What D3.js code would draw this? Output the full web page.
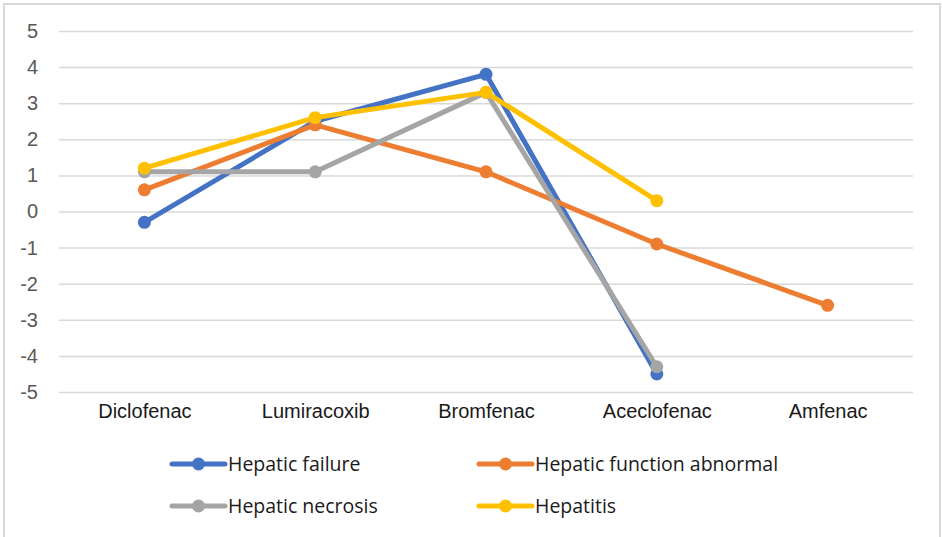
<!DOCTYPE html>
<html>
<head>
<meta charset="utf-8">
<script src="https://cdn.jsdelivr.net/npm/d3@7"></script>
<style>
  html, body { margin: 0; padding: 0; background: #fff; }
  svg { display: block; font-family: "Open Sans", "Liberation Sans", sans-serif; }
</style>
</head>
<body>
<svg id="chart" width="942" height="537"></svg>
<script>
// Drugs on the category axis
const categories = ["Diclofenac", "Lumiracoxib", "Bromfenac", "Aceclofenac", "Amfenac"];

// Series values per drug (null = no value reported)
const hepaticFailure = [-0.3, 2.5, 3.8, -4.5, null];
const hepaticFunctionAbnormal = [0.6, 2.4, 1.1, -0.9, -2.6];
const hepaticNecrosis = [1.1, 1.1, 3.3, -4.3, null];
const hepatitis = [1.2, 2.6, 3.3, 0.3, null];

const seriesNames = ["Hepatic failure", "Hepatic function abnormal", "Hepatic necrosis", "Hepatitis"];
const seriesColors = ["#4472C4", "#ED7D31", "#A5A5A5", "#FFC000"];
const yTicks = [-5, -4, -3, -2, -1, 0, 1, 2, 3, 4, 5];

const series = [hepaticFailure, hepaticFunctionAbnormal, hepaticNecrosis, hepatitis].map((vals, i) => ({
  name: seriesNames[i],
  color: seriesColors[i],
  points: vals.map((v, j) => ({ cat: categories[j], value: v }))
}));

const svg = d3.select("#chart");
const plotLeft = 59, plotRight = 913, plotTop = 31, plotBottom = 392;

// Outer chart frame (left, top, right edges)
svg.append("path")
  .attr("d", "M4,537 V4 H940 V537")
  .attr("fill", "none")
  .attr("stroke", "#d9d9d9")
  .attr("stroke-width", 2);

const x = d3.scalePoint().domain(categories).range([plotLeft, plotRight]).padding(0.5);
const y = d3.scaleLinear().domain([-5, 5]).range([plotBottom, plotTop]);

// Value axis with horizontal gridlines
const yAxis = svg.append("g")
  .attr("transform", `translate(${plotLeft},0)`)
  .call(d3.axisLeft(y).tickValues(yTicks).tickSize(-(plotRight - plotLeft)).tickPadding(21).tickFormat(d3.format("d")));
yAxis.select(".domain").remove();
yAxis.selectAll(".tick line").attr("stroke", "#d9d9d9").attr("stroke-width", 1.5);
yAxis.selectAll(".tick text")
  .attr("fill", "#595959")
  .style("font-size", "20px")
  .text(d => d < 0 ? "-" + Math.abs(d) : d);

// Category axis labels
const xAxis = svg.append("g")
  .attr("transform", `translate(0,${plotBottom})`)
  .call(d3.axisBottom(x).tickSize(0).tickPadding(12));
xAxis.select(".domain").remove();
xAxis.selectAll(".tick text")
  .attr("fill", "#1a1a1a")
  .style("font-size", "20px");

// Lines and markers
const line = d3.line()
  .defined(d => d.value !== null)
  .x(d => x(d.cat))
  .y(d => y(d.value));

series.forEach(s => {
  const g = svg.append("g");
  g.append("path")
    .datum(s.points)
    .attr("d", line)
    .attr("fill", "none")
    .attr("stroke", s.color)
    .attr("stroke-width", 5)
    .attr("stroke-linejoin", "round")
    .attr("stroke-linecap", "round");
  g.selectAll("circle")
    .data(s.points.filter(d => d.value !== null))
    .join("circle")
    .attr("cx", d => x(d.cat))
    .attr("cy", d => y(d.value))
    .attr("r", 6.5)
    .attr("fill", s.color);
});

// Legend: two columns, two rows
const legendPos = [
  { lx: 172, ly: 464 },
  { lx: 479, ly: 464 },
  { lx: 172, ly: 506 },
  { lx: 479, ly: 506 }
];
series.forEach((s, i) => {
  const p = legendPos[i];
  const g = svg.append("g").attr("transform", `translate(${p.lx},${p.ly})`);
  g.append("line")
    .attr("x1", 0).attr("x2", 53).attr("y1", 0).attr("y2", 0)
    .attr("stroke", s.color).attr("stroke-width", 5).attr("stroke-linecap", "round");
  g.append("circle").attr("cx", 26.5).attr("cy", 0).attr("r", 6.5).attr("fill", s.color);
  g.append("text")
    .attr("x", 56).attr("y", 0).attr("dy", "0.35em")
    .attr("fill", "#1a1a1a")
    .style("font-size", "19.5px")
    .text(s.name);
});
</script>
</body>
</html>
